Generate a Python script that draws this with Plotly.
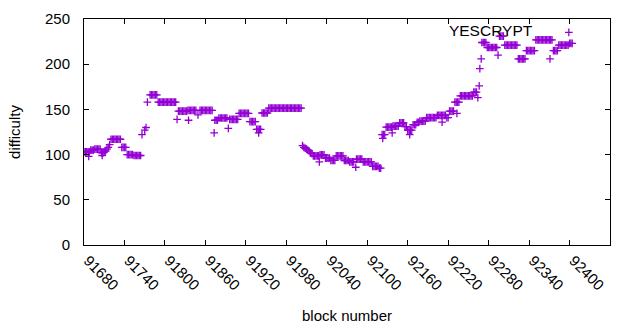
import plotly.graph_objects as go

blocks = [
    91680, 91682, 91684, 91686, 91687, 91688,
    91690, 91692, 91694,
    91696, 91698, 91700, 91702, 91704,
    91706, 91707, 91708,
    91710, 91712, 91714, 91716, 91718,
    91720, 91722, 91724, 91726, 91728, 91730, 91732, 91734,
    91736, 91738, 91740, 91742,
    91744, 91746, 91748, 91750, 91752,
    91754, 91756, 91758, 91760, 91762, 91764,
    91766, 91770, 91772, 91774,
    91778, 91780, 91782, 91784, 91786, 91788,
    91790, 91792, 91794, 91796, 91798, 91800, 91802, 91804, 91806, 91808, 91810, 91812, 91814, 91816,
    91818,
    91820, 91822, 91824, 91826, 91828, 91830, 91832,
    91834, 91835, 91836, 91838, 91840, 91842, 91844, 91846,
    91849,
    91852, 91854, 91856, 91858, 91860, 91862, 91864, 91866, 91868, 91870,
    91873, 91874, 91876, 91878,
    91880, 91882, 91884, 91886, 91888, 91890, 91892, 91894,
    91896, 91898, 91900, 91902, 91904, 91906, 91908,
    91910, 91912, 91914, 91916, 91918, 91920, 91922, 91924,
    91926, 91928, 91930, 91932, 91934,
    91936, 91938, 91939, 91940, 91942,
    91944, 91946, 91948, 91950, 91952,
    91954, 91956, 91958, 91960, 91962, 91964, 91966, 91968, 91970, 91972, 91974, 91976, 91978,
    91980, 91982, 91984, 91986, 91988, 91990, 91992, 91994, 91996, 91998, 92000, 92002,
    92004, 92006, 92008, 92010, 92012, 92014, 92016, 92018,
    92020, 92022, 92024, 92026, 92028, 92029,
    92030, 92032, 92034, 92036,
    92038, 92040, 92042, 92044,
    92046, 92048, 92050, 92052,
    92054, 92056, 92058, 92060, 92062, 92064,
    92066, 92068, 92070, 92072,
    92074, 92076, 92078, 92080, 92083,
    92084, 92086, 92088, 92090, 92092,
    92094, 92096, 92098, 92100, 92102, 92104, 92106,
    92108, 92110, 92112, 92114, 92116,
    92118, 92120,
    92122, 92123, 92124, 92126,
    92128, 92130, 92132, 92134, 92136, 92137,
    92138, 92140, 92142, 92144, 92146,
    92148, 92150, 92152, 92154,
    92156, 92158,
    92160, 92162, 92163, 92164, 92166,
    92168, 92170, 92172,
    92174, 92176,
    92178, 92180, 92182, 92184, 92186,
    92188, 92190, 92192, 92194, 92196, 92198, 92200, 92202,
    92204, 92206, 92208, 92210, 92211, 92212, 92214, 92216,
    92218, 92220,
    92222, 92224, 92226, 92228,
    92230, 92232, 92233, 92234, 92236,
    92238, 92240, 92242, 92244, 92246, 92248, 92250, 92252, 92254, 92256,
    92258, 92260, 92262, 92264, 92266, 92267, 92269,
    92270, 92272, 92274, 92276,
    92278, 92280, 92282, 92284, 92286, 92288, 92290, 92292,
    92294,
    92296, 92298, 92300, 92302,
    92304, 92306, 92308, 92310, 92312, 92314, 92316, 92318, 92320, 92322,
    92324, 92326, 92328, 92330, 92332, 92334,
    92336, 92338, 92340, 92342, 92344, 92346, 92348,
    92350, 92352, 92354, 92356, 92358, 92360, 92362, 92364, 92366, 92368, 92370, 92371, 92372, 92374,
    92376, 92378, 92380, 92382,
    92384, 92386, 92388, 92390, 92392, 92394, 92396, 92398,
    92400, 92402, 92404,
]

difficulty = [
    103, 103, 103, 103, 98, 103,
    105, 105, 105,
    106, 106, 106, 106, 106,
    102, 99, 102,
    103, 104, 106, 108, 111,
    117, 117, 117, 117, 117, 117, 117, 117,
    108, 108, 108, 108,
    100, 100, 100, 100, 100,
    99, 99, 99, 99, 99, 99,
    122, 127, 130, 158,
    166, 166, 166, 166, 166, 166,
    158, 158, 158, 158, 158, 158, 158, 158, 158, 158, 158, 158, 158, 158,
    139,
    148, 148, 148, 148, 148, 148, 148,
    149, 138, 149, 149, 149, 149, 149, 149,
    144,
    149, 149, 149, 149, 149, 149, 149, 149, 149, 149,
    124, 138, 138, 138,
    140.5, 140.5, 140.5, 140.5, 140.5, 140.5, 140.5, 129,
    139, 139, 139, 139, 139, 139, 139,
    145.5, 145.5, 145.5, 145.5, 145.5, 145.5, 145.5, 145.5,
    136.5, 136.5, 136.5, 136.5, 136.5,
    128, 128, 124, 128, 128,
    146, 146, 146, 146, 146,
    151.5, 151.5, 151.5, 151.5, 151.5, 151.5, 151.5, 151.5, 151.5, 151.5, 151.5, 151.5, 151.5,
    151.5, 151.5, 151.5, 151.5, 151.5, 151.5, 151.5, 151.5, 151.5, 151.5, 151.5, 151.5,
    110, 108, 107, 106, 105, 104, 102, 101,
    98.5, 98.5, 98.5, 98.5, 98.5, 92,
    99.6, 99.6, 99.6, 99.6,
    96, 96, 96, 96,
    93.7, 93.7, 93.7, 93.7,
    98.5, 98.5, 98.5, 98.5, 98.5, 98.5,
    93.5, 93.5, 93.5, 93.5,
    92, 92, 92, 92, 86,
    95, 95, 95, 95, 95,
    92, 92, 92, 92, 92, 92, 92,
    87, 87, 87, 87, 87,
    85, 85,
    122, 118, 122, 122,
    130.5, 130.5, 130.5, 130.5, 130.5, 124,
    131.6, 131.6, 131.6, 131.6, 131.6,
    135, 135, 135, 135,
    131, 131,
    127, 127, 122, 127, 127,
    133, 133, 133,
    135.6, 135.6,
    137, 137, 137, 137, 137,
    141, 141, 141, 141, 141, 141, 141, 141,
    143.5, 143.5, 143.5, 143.5, 136, 143.5, 143.5, 143.5,
    141, 141,
    148, 148, 148, 148,
    158, 158, 145.7, 158, 158,
    165, 165, 165, 165, 165, 165, 165, 165, 165, 165,
    169, 169, 169, 163, 176, 195, 206,
    224, 224, 224, 224,
    218.5, 218.5, 218.5, 218.5, 218.5, 218.5, 218.5, 218.5,
    210,
    231, 231, 231, 231,
    221, 221, 221, 221, 221, 221, 221, 221, 221, 221,
    206, 206, 206, 206, 206, 206,
    215, 215, 215, 215, 215, 215, 215,
    227, 227, 227, 227, 227, 227, 227, 227, 227, 227, 227, 206, 227, 227,
    215, 215, 215, 215,
    221, 221, 221, 221, 221, 221, 221, 221,
    223, 223, 223,
]

assert len(blocks) == len(difficulty), (len(blocks), len(difficulty))

x_ticks = [91680, 91740, 91800, 91860, 91920, 91980, 92040, 92100,
           92160, 92220, 92280, 92340, 92400, 92460]
y_ticks = [0, 50, 100, 150, 200, 250]

PURPLE = "#9400D3"
FONT = "Liberation Sans, Arial, sans-serif"

fig = go.Figure()
fig.add_trace(go.Scatter(
    x=blocks, y=difficulty, mode="markers", name=" ",
    marker=dict(symbol="cross-thin", size=5.5, color=PURPLE,
                line=dict(color=PURPLE, width=1.3)),
    showlegend=True,
))

axis_common = dict(
    showline=True, linecolor="black", linewidth=1, mirror="allticks",
    ticks="inside", ticklen=5, tickwidth=1, tickcolor="black",
    showgrid=False, zeroline=False, automargin=False,
    tickfont=dict(family=FONT, size=15, color="black"),
)

fig.update_layout(
    width=640, height=330,
    margin=dict(l=84, r=30, t=19, b=85, autoexpand=False),
    paper_bgcolor="white", plot_bgcolor="white",
    font=dict(family=FONT, size=15, color="black"),
    xaxis=dict(range=[91680, 92460], tickvals=x_ticks,
               ticktext=[str(v) for v in x_ticks], tickangle=45,
               ticklabelshift=4,
               title=dict(text="block number", font=dict(family=FONT, size=15), standoff=18),
               **axis_common),
    yaxis=dict(range=[0, 250], tickvals=y_ticks,
               ticktext=[str(v) for v in y_ticks], ticklabelstandoff=10,
               title=dict(text="difficulty", font=dict(family=FONT, size=15), standoff=20),
               **axis_common),
    legend=dict(
        title=dict(text="YESCRYPT\u00a0\u00a0", side="left",
                   font=dict(family=FONT, size=15.5, color="black")),
        x=0.69, y=0.94, xanchor="left", yanchor="middle",
        bgcolor="rgba(0,0,0,0)", borderwidth=0, itemwidth=30,
        font=dict(family=FONT, size=15),
    ),
)

fig.write_html("out.html", config={"displayModeBar": False},
               post_script="document.body.style.margin='0';document.body.style.overflow='hidden';")
